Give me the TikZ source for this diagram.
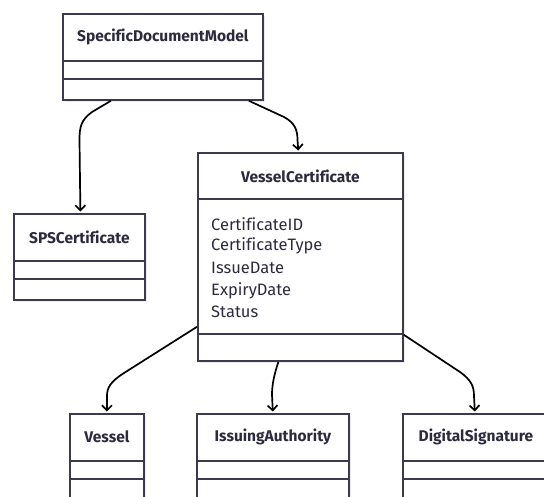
\documentclass[tikz,border=0pt]{standalone}
\usepackage{fontspec}
\setmainfont{Fira Sans}[Ligatures=NoCommon]
\usetikzlibrary{calc,arrows.meta,shadows}
\definecolor{boxc}{HTML}{3B3A50}
\definecolor{txtc}{HTML}{2C2B3E}
\tikzset{
  umlbox/.style={draw=boxc, line width=1.8pt, fill=white, anchor=north west, inner sep=0pt,
    drop shadow={shadow xshift=2.5pt, shadow yshift=-2.5pt, fill=black!12, opacity=0.6}},
  ctitle/.style={font=\fontsize{15.5}{17}\selectfont\bfseries, text=txtc, inner sep=0pt},
  attr/.style={font=\fontsize{16.5}{18}\selectfont, text=txtc, inner sep=0pt, anchor=west},
  divline/.style={draw=boxc, line width=1.8pt},
  assoc/.style={draw=black, line width=1.7pt, -{Straight Barb[length=5pt,width=10pt]}, shorten >=1.5pt}
}
\begin{document}
\begin{tikzpicture}[x=1pt,y=-1pt]
\useasboundingbox (0,0) rectangle (544,497);
\clip (0,0) rectangle (544,497);
% boxes
\node[umlbox, minimum width=200pt, minimum height=86pt] (sdm) at (62,13) {};
\node[umlbox, minimum width=131pt, minimum height=86pt] (sps) at (13,213) {};
\node[umlbox, minimum width=205pt, minimum height=208pt] (vc) at (197,152) {};
\node[umlbox, minimum width=74pt, minimum height=86pt] (ves) at (69,413) {};
\node[umlbox, minimum width=152pt, minimum height=86pt] (ia) at (196,413) {};
\node[umlbox, minimum width=146pt, minimum height=86pt] (ds) at (402,413) {};
% titles
\node[ctitle] (sdmt) at ($(sdm.north)+(0,24)$) {SpecificDocumentModel};
\node[ctitle] (spst) at ($(sps.north)+(0,24)$) {SPSCertificate};
\node[ctitle] (vct) at ($(vc.north)+(0,24)$) {VesselCertificate};
\node[ctitle] (vest) at ($(ves.north)+(0,24)$) {Vessel};
\node[ctitle] (iat) at ($(ia.north)+(0,24)$) {IssuingAuthority};
\node[ctitle] (dst) at ($(ds.north)+(0,24)$) {DigitalSignature};
% dividers
\foreach \b in {sdm,sps,ves,ia,ds}{
  \draw[divline] ($(\b.north west)+(0,48)$) -- ($(\b.north east)+(0,48)$);
  \draw[divline] ($(\b.north west)+(0,66)$) -- ($(\b.north east)+(0,66)$);
}
\draw[divline] ($(vc.north west)+(0,47)$) -- ($(vc.north east)+(0,47)$);
\draw[divline] ($(vc.north west)+(0,182)$) -- ($(vc.north east)+(0,182)$);
% attributes
\node[attr] (a1) at ($(vc.north west)+(14,72)$) {CertificateID};
\node[attr] (a2) at ($(vc.north west)+(14,94)$) {CertificateType};
\node[attr] (a3) at ($(vc.north west)+(14,116)$) {IssueDate};
\node[attr] (a4) at ($(vc.north west)+(14,138.5)$) {ExpiryDate};
\node[attr] (a5) at ($(vc.north west)+(14,160)$) {Status};
% connectors
\draw[assoc] ([xshift=-52pt]sdm.south) -- (92,112) .. controls (81,120) and (79.5,127) .. (79.5,140) -- ([xshift=1pt]sps.north);
\draw[assoc] ([xshift=86pt]sdm.south) -- (284,117) .. controls (295,123) and (297.5,130) .. (297.5,140) -- ([xshift=-2pt]vc.north);
\draw[assoc] ([yshift=35pt]vc.south west) -- (124,373) .. controls (110,382) and (107,388) .. (107,396) -- (ves.north);
\draw[assoc] ([xshift=-22pt]vc.south) .. controls (274,375) and (272,385) .. (272,395) -- (ia.north);
\draw[assoc] ([yshift=27pt]vc.south east) -- (460,372) .. controls (471,380) and (474,386) .. (474,396) -- ([xshift=-1pt]ds.north);
\end{tikzpicture}
\end{document}
